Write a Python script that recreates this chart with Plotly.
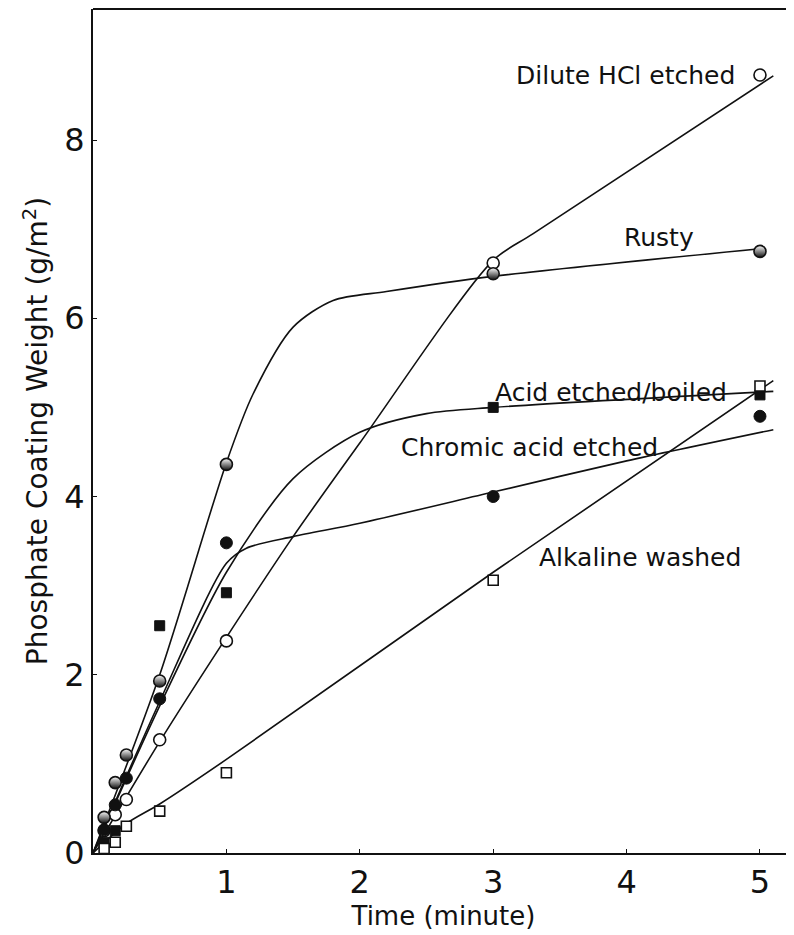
import plotly.graph_objects as go

# Measured points (time in minutes, coating weight in g/m2)
times = [1/12, 1/6, 0.25, 0.5, 1, 3, 5]
hcl_vals = [0.25, 0.43, 0.6, 1.27, 2.38, 6.62, 8.73]
rusty_vals = [0.4, 0.79, 1.1, 1.93, 4.36, 6.5, 6.75]
chromic_vals = [0.26, 0.54, 0.84, 1.73, 3.48, 4.0, 4.9]
acid_times = [1/12, 1/6, 0.5, 1, 3, 5]
acid_vals = [0.12, 0.25, 2.55, 2.92, 5.0, 5.14]
alk_vals = [0.05, 0.12, 0.3, 0.47, 0.9, 3.06, 5.24]

# Hand-drawn fitted curves
hcl_curve_t = [0, 0.5, 1, 1.5, 2, 3, 3.3, 5.1]
hcl_curve_v = [0, 1.25, 2.42, 3.55, 4.6, 6.65, 6.95, 8.72]
rusty_curve_t = [0, 0.5, 1, 1.2, 1.5, 1.8, 2.2, 3, 5]
rusty_curve_v = [0, 2.0, 4.38, 5.15, 5.9, 6.2, 6.3, 6.47, 6.78]
chromic_curve_t = [0, 0.5, 1, 1.15, 1.5, 2, 3, 4, 5.1]
chromic_curve_v = [0, 1.7, 3.25, 3.42, 3.55, 3.7, 4.05, 4.4, 4.75]
acid_curve_t = [0, 0.5, 1, 1.5, 2, 2.5, 3, 5.1]
acid_curve_v = [0, 1.65, 3.15, 4.2, 4.72, 4.93, 5.0, 5.18]
alk_curve_t = [0, 0.25, 0.5, 1, 3, 5.1]
alk_curve_v = [0, 0.33, 0.55, 1.05, 3.15, 5.3]

x_ticks = [1, 2, 3, 4, 5]
y_ticks = [0, 2, 4, 6, 8]

labels = ["Dilute HCl etched", "Rusty", "Acid etched/boiled", "Chromic acid etched", "Alkaline washed"]
label_x = [3.99, 4.24, 3.88, 3.27, 4.10]
label_y = [8.72, 6.91, 5.17, 4.55, 3.32]

FONT = "DejaVu Sans, sans-serif"
BLACK = "#111111"

fig = go.Figure()
line_style = dict(color=BLACK, width=1.6, shape="spline", smoothing=0.8)
for ct, cv in [(hcl_curve_t, hcl_curve_v), (rusty_curve_t, rusty_curve_v),
               (chromic_curve_t, chromic_curve_v), (acid_curve_t, acid_curve_v),
               (alk_curve_t, alk_curve_v)]:
    fig.add_trace(go.Scatter(x=ct, y=cv, mode="lines", line=line_style,
                             hoverinfo="skip", showlegend=False))

ms = 12
fig.add_trace(go.Scatter(x=times, y=hcl_vals, mode="markers", showlegend=False,
                         marker=dict(symbol="circle", size=ms, color="white",
                                     line=dict(color=BLACK, width=1.6))))
fig.add_trace(go.Scatter(x=times, y=rusty_vals, mode="markers", showlegend=False,
                         marker=dict(symbol="circle", size=ms, color="white",
                                     gradient=dict(type="vertical", color=BLACK),
                                     line=dict(color=BLACK, width=1.6))))
fig.add_trace(go.Scatter(x=times, y=chromic_vals, mode="markers", showlegend=False,
                         marker=dict(symbol="circle", size=ms, color=BLACK,
                                     line=dict(color=BLACK, width=1))))
fig.add_trace(go.Scatter(x=acid_times, y=acid_vals, mode="markers", showlegend=False,
                         marker=dict(symbol="square", size=10, color=BLACK,
                                     line=dict(color=BLACK, width=1))))
fig.add_trace(go.Scatter(x=times, y=alk_vals, mode="markers", showlegend=False,
                         marker=dict(symbol="square", size=10, color="white",
                                     line=dict(color=BLACK, width=1.6))))

for txt, lx, ly in zip(labels, label_x, label_y):
    fig.add_annotation(x=lx, y=ly, text=txt, showarrow=False,
                       xanchor="center", yanchor="middle",
                       font=dict(family=FONT, size=25, color=BLACK))

# page body adds an 8px margin, so the figure is sized to fill the remaining window
fig.update_layout(
    width=786, height=927,
    margin=dict(l=85, r=0, t=1, b=82),
    plot_bgcolor="white", paper_bgcolor="white",
    font=dict(family=FONT, color=BLACK),
    shapes=[dict(type="line", xref="paper", yref="paper", x0=0, x1=1, y0=1, y1=1,
                 line=dict(color=BLACK, width=2))],
)
fig.update_xaxes(range=[0, 5.255], tickvals=x_ticks, ticktext=[str(v) for v in x_ticks],
                 showgrid=False, zeroline=False, showline=True, linecolor=BLACK, linewidth=2,
                 ticks="inside", ticklen=4, tickcolor=BLACK, tickfont=dict(size=32),
                 automargin=False,
                 title=dict(text="Time (minute)", font=dict(size=26), standoff=6))
fig.update_yaxes(range=[0, 9.47], tickvals=y_ticks, ticktext=[str(v) for v in y_ticks],
                 showgrid=False, zeroline=False, showline=True, linecolor=BLACK, linewidth=2,
                 ticks="inside", ticklen=4, tickcolor=BLACK, tickfont=dict(size=32),
                 automargin=False,
                 title=dict(text="Phosphate Coating Weight (g/m<sup>2</sup>)", font=dict(size=28), standoff=8))

fig.write_html("out.html")
